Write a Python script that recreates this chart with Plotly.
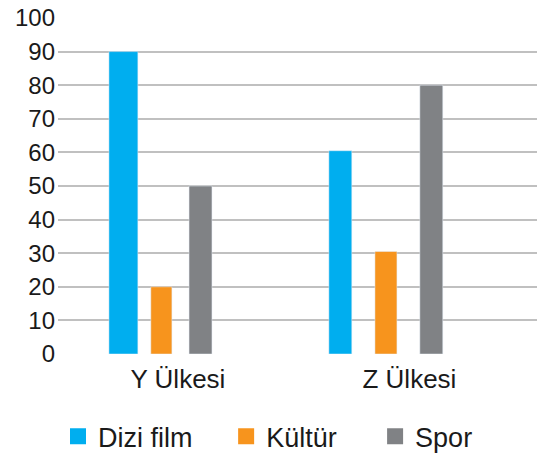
import plotly.graph_objects as go

categories = ["Y Ülkesi", "Z Ülkesi"]
series_names = ["Dizi film", "Kültür", "Spor"]
dizi_film = [90, 60.5]
kultur = [20, 30.5]
spor = [50, 80]
y_ticks = [0, 10, 20, 30, 40, 50, 60, 70, 80, 90, 100]

colors = ["#00AEEF", "#F7941D", "#808285"]
values = [dizi_film, kultur, spor]
# per-bar offsets / widths (category units) to mimic the reference layout
offsets = [[-0.298, -0.348], [-0.117, -0.149], [0.048, 0.045]]
widths = [[0.125, 0.099], [0.091, 0.095], [0.099, 0.099]]
legend_ids = ["legend", "legend2", "legend3"]
legend_x = [0.0, 0.351, 0.662]

FONT = "Liberation Sans, Arial, sans-serif"

fig = go.Figure()
for name, vals, col, off, w in zip(series_names, values, colors, offsets, widths):
    fig.add_trace(go.Bar(x=categories, y=vals, name=name, marker_color=col,
                         offset=off, width=w, showlegend=False))
for name, col, lid in zip(series_names, colors, legend_ids):
    fig.add_trace(go.Scatter(x=[None], y=[None], mode="markers", name=name,
                             marker=dict(symbol="square", size=18, color=col),
                             showlegend=True, legend=lid))

legend_common = dict(orientation="h", y=-0.246, yanchor="middle", xanchor="left",
                     font=dict(size=27, family=FONT, color="#1a1a1a"),
                     bgcolor="rgba(0,0,0,0)", itemsizing="trace")
fig.update_layout(
    width=541, height=459,
    margin=dict(l=58, r=4, t=18, b=105, autoexpand=False),
    paper_bgcolor="white", plot_bgcolor="white",
    font=dict(family=FONT, color="#1a1a1a", size=24),
    barmode="overlay",
    legend=dict(x=legend_x[0], **legend_common),
    legend2=dict(x=legend_x[1], **legend_common),
    legend3=dict(x=legend_x[2], **legend_common),
)
fig.update_xaxes(type="category", range=[-0.518, 1.551], showgrid=False,
                 showline=False, zeroline=False, ticks="",
                 tickfont=dict(size=26, family=FONT, color="#1a1a1a"),
                 ticklabelstandoff=7)
fig.update_yaxes(range=[0, 100], tickvals=y_ticks, showgrid=True,
                 gridcolor="#c0c0c0", gridwidth=2, zeroline=False, showline=False,
                 ticks="", tickfont=dict(size=24, family=FONT, color="#1a1a1a"),
                 ticklabelstandoff=2)

fig.write_html("out.html")
